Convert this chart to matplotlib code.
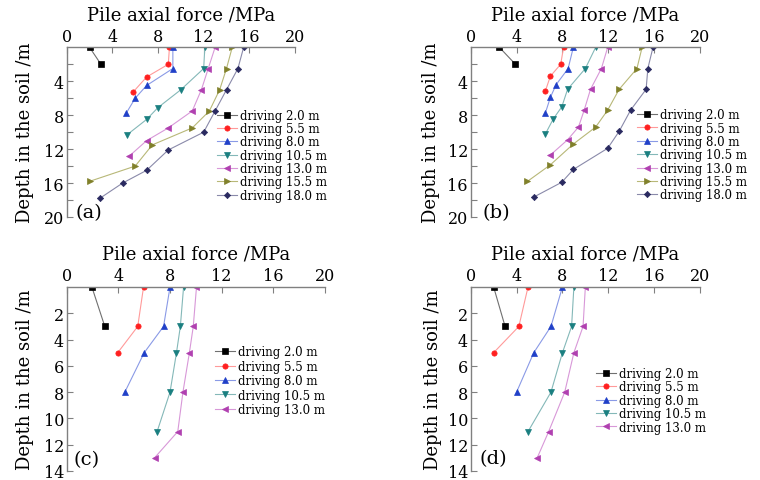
import matplotlib
matplotlib.use("Agg")
import matplotlib.pyplot as plt

plt.rcParams['font.family'] = ['DejaVu Serif']

W, H = 760, 481

labels7 = ["driving 2.0 m", "driving 5.5 m", "driving 8.0 m", "driving 10.5 m",
           "driving 13.0 m", "driving 15.5 m", "driving 18.0 m"]
markers = ['s', 'o', '^', 'v', '<', '>', 'D']
mcolors = ['#000000', '#ff2020', '#2040c8', '#1a7f80', '#b040b0', '#80802a', '#2a2a60']
lcolors = ['#707070', '#ff9a9a', '#8a9ae6', '#84b8b8', '#d898d8', '#b8b878', '#8a8aaa']

# ---- panel (a) ----
a_force = [
    [2.0, 3.0],
    [9.0, 8.9, 7.0, 5.8],
    [9.3, 9.3, 7.0, 6.0, 5.2],
    [12.1, 12.0, 10.0, 8.0, 7.0, 5.3],
    [13.0, 12.4, 11.8, 11.0, 8.9, 7.0, 5.5],
    [14.5, 14.0, 13.4, 12.5, 11.0, 7.5, 6.0, 2.0],
    [15.5, 15.0, 14.0, 13.0, 12.0, 8.9, 7.0, 4.9, 2.9],
]
a_depth = [
    [0, 2.0],
    [0, 2.0, 3.5, 5.3],
    [0, 2.5, 4.5, 6.0, 7.8],
    [0, 2.5, 5.0, 7.1, 8.5, 10.3],
    [0, 2.5, 5.0, 7.5, 9.5, 11.0, 12.8],
    [0, 2.5, 5.0, 7.5, 9.5, 11.5, 14.0, 15.8],
    [0, 2.5, 5.0, 7.5, 10.0, 12.1, 14.5, 16.0, 17.8],
]

# ---- panel (b) ----
b_force = [
    [2.5, 3.9],
    [8.1, 7.85, 6.95, 6.5],
    [8.95, 8.5, 7.45, 6.95, 6.5],
    [10.9, 10.0, 8.45, 7.95, 7.2, 6.5],
    [11.95, 11.4, 10.45, 9.9, 9.4, 8.45, 6.95],
    [14.95, 14.5, 12.95, 11.95, 10.9, 8.95, 6.95, 4.95],
    [15.9, 15.45, 15.3, 13.95, 12.95, 11.95, 8.95, 7.95, 5.5],
]
b_depth = [
    [0, 2.0],
    [0, 2.0, 3.4, 5.2],
    [0, 2.5, 4.4, 5.9, 7.8],
    [0, 2.5, 4.95, 7.0, 8.45, 10.25],
    [0, 2.5, 4.95, 7.4, 9.4, 10.9, 12.7],
    [0, 2.5, 4.95, 7.4, 9.4, 11.4, 13.85, 15.8],
    [0, 2.5, 4.95, 7.4, 9.9, 11.9, 14.4, 15.9, 17.65],
]

# ---- panel (c) ----
c_force = [
    [1.95, 2.95],
    [5.95, 5.5, 3.95],
    [8.0, 7.5, 6.0, 4.5],
    [9.05, 8.8, 8.5, 8.0, 7.0],
    [10.05, 9.8, 9.5, 9.0, 8.6, 6.8],
]
c_depth = [
    [0, 3],
    [0, 3, 5],
    [0, 3, 5, 8],
    [0, 3, 5, 8, 11],
    [0, 3, 5, 8, 11, 13],
]

# ---- panel (d) ----
d_force = [
    [2.0, 3.0],
    [5.0, 4.2, 2.0],
    [8.0, 7.0, 5.5, 4.0],
    [9.0, 8.8, 8.0, 7.0, 5.0],
    [10.0, 9.8, 9.0, 8.2, 6.8, 5.8],
]
d_depth = [
    [0, 3],
    [0, 3, 5],
    [0, 3, 5, 8],
    [0, 3, 5, 8, 11],
    [0, 3, 5, 8, 11, 13],
]

x_ticks = [0, 4, 8, 12, 16, 20]
y_ticks_top = [4, 8, 12, 16, 20]
y_ticks_bot = [2, 4, 6, 8, 10, 12, 14]

fig = plt.figure(figsize=(W / 100, H / 100), dpi=100)


def px_axes(l, r, t, b):
    return fig.add_axes([l / W, 1 - b / H, (r - l) / W, (b - t) / H])


def style(ax, ymax, yticks, yminor, lpad):
    ax.set_xlim(0, 20)
    ax.set_ylim(ymax, 0)
    ax.xaxis.tick_top()
    ax.xaxis.set_label_position('top')
    ax.set_xticks(x_ticks)
    ax.set_yticks(yticks)
    if yminor is not None:
        ax.set_yticks(yminor, minor=True)
    for s in ['right', 'bottom']:
        ax.spines[s].set_visible(False)
    for s in ['top', 'left']:
        ax.spines[s].set_color('#808080')
        ax.spines[s].set_linewidth(1.0)
    ax.tick_params(which='both', direction='in', color='#808080', labelsize=11.5,
                   length=4, width=0.8, pad=2)
    ax.tick_params(which='minor', length=4)
    ax.set_xlabel("Pile axial force /MPa", fontsize=13, labelpad=6)
    ax.set_ylabel("Depth in the soil /m", fontsize=13, labelpad=lpad)
    ax.set_facecolor('none')


def draw(ax, forces, depths, n):
    for i in range(n):
        ax.plot(forces[i], depths[i], color=lcolors[i], lw=0.8,
                marker=markers[i], markersize=3.8 if markers[i] != 'D' else 3.2,
                markerfacecolor=mcolors[i], markeredgecolor=mcolors[i],
                markeredgewidth=0.5, label=labels7[i])


def leg(ax, x, yc, spacing):
    ax.legend(loc='center left', bbox_to_anchor=(x / W, 1 - yc / H),
              bbox_transform=fig.transFigure, frameon=False, fontsize=8.5,
              borderpad=0, borderaxespad=0, handlelength=1.7,
              handletextpad=0.25, labelspacing=spacing)


axa = px_axes(66.7, 295, 48.3, 218)
style(axa, 20, y_ticks_top, [2, 6, 10, 14, 18], 7)
draw(axa, a_force, a_depth, 7)
leg(axa, 216.7, 156.2, 0.03)

axb = px_axes(470.7, 700, 48.3, 218)
style(axb, 20, y_ticks_top, [2, 6, 10, 14, 18], 5)
draw(axb, b_force, b_depth, 7)
leg(axb, 636.7, 155.8, 0.03)

axc = px_axes(66.7, 325, 288, 472)
style(axc, 14, y_ticks_bot, None, 7)
draw(axc, c_force, c_depth, 5)
leg(axc, 215, 381.7, 0.12)

axd = px_axes(470.7, 700, 288, 472)
style(axd, 14, y_ticks_bot, None, 4)
draw(axd, d_force, d_depth, 5)
leg(axd, 596, 401.3, 0.03)

for lab, (x, y) in zip(['(a)', '(b)', '(c)', '(d)'],
                       [(89, 213), (496, 213), (87, 460), (493, 459)]):
    fig.text(x / W, 1 - y / H, lab, ha='center', va='center', fontsize=14)

fig.savefig("out.png", dpi=100)
